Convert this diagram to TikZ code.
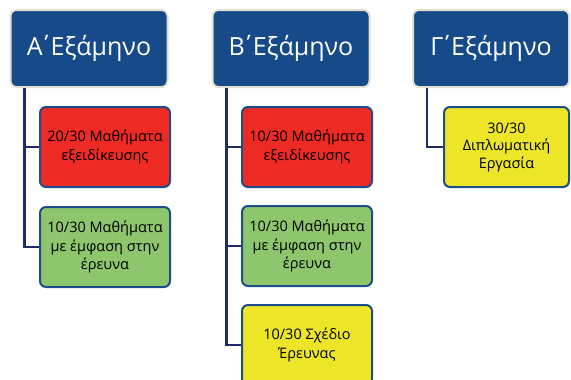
\documentclass[tikz,border=0pt]{standalone}
\usepackage{fontspec}
\setmainfont{Open Sans}
\definecolor{topblue}{HTML}{174A88}
\definecolor{topedge}{HTML}{E4E0D2}
\definecolor{boxedge}{HTML}{1E4D8C}
\definecolor{linkcol}{HTML}{1E2A6A}
\definecolor{redfill}{HTML}{EE2A24}
\definecolor{greenfill}{HTML}{8DC66C}
\definecolor{yellowfill}{HTML}{EDE628}
\newcommand{\semtitle}[1]{#1\kern-4pt΄\kern-2.5pt Εξάμηνο}
\tikzset{
  headbox/.style={draw=topedge, line width=2pt, fill=topblue, rounded corners=6pt,
    minimum width=157pt, minimum height=77pt, inner sep=0pt, text=white, font=\fontsize{25}{30}\selectfont},
  itembox/.style={draw=boxedge, line width=2pt, rounded corners=6pt,
    minimum width=130pt, minimum height=80pt, inner sep=0pt, align=center, text=black,
    font=\fontsize{14.5}{18.5}\selectfont},
  link/.style={draw=linkcol, line width=2.4pt}
}
\begin{document}
\begin{tikzpicture}[x=1pt,y=-1pt]
\useasboundingbox (0,0) rectangle (571,380);
\node[headbox] (A) at (89,48.5) {\semtitle{Α}};
\node[headbox] (B) at (291,48.5) {\semtitle{Β}};
\node[headbox, minimum width=156pt] (C) at (491,48.5) {\semtitle{Γ}};
\coordinate (Ab) at ([xshift=15pt]A.south west);
\coordinate (Bb) at ([xshift=15pt]B.south west);
\coordinate (Cb) at ([xshift=15pt]C.south west);
\node[itembox, fill=redfill] (a1) at (105,147) {20/30 Μαθήματα\\εξειδίκευσης};
\node[itembox, fill=greenfill] (a2) at (105,247) {10/30 Μαθήματα\\με έμφαση στην\\έρευνα};
\node[itembox, fill=redfill] (b1) at (307,147) {10/30 Μαθήματα\\εξειδίκευσης};
\node[itembox, fill=greenfill] (b2) at (307,246) {10/30 Μαθήματα\\με έμφαση στην\\έρευνα};
\node[itembox, fill=yellowfill] (b3) at (307,345) {10/30 Σχέδιο\\Έρευνας};
\node[itembox, fill=yellowfill, minimum width=125pt, font=\fontsize{14.5}{17.5}\selectfont] (c1) at (506.5,147) {30/30\\Διπλωματική\\Εργασία};
\draw[link] (Ab) |- (a1.west);
\draw[link] (Ab) |- (a2.west);
\draw[link] (Bb) |- (b1.west);
\draw[link] (Bb) |- (b2.west);
\draw[link] (Bb) |- (b3.west);
\draw[link] (Cb) |- (c1.west);
\end{tikzpicture}
\end{document}
